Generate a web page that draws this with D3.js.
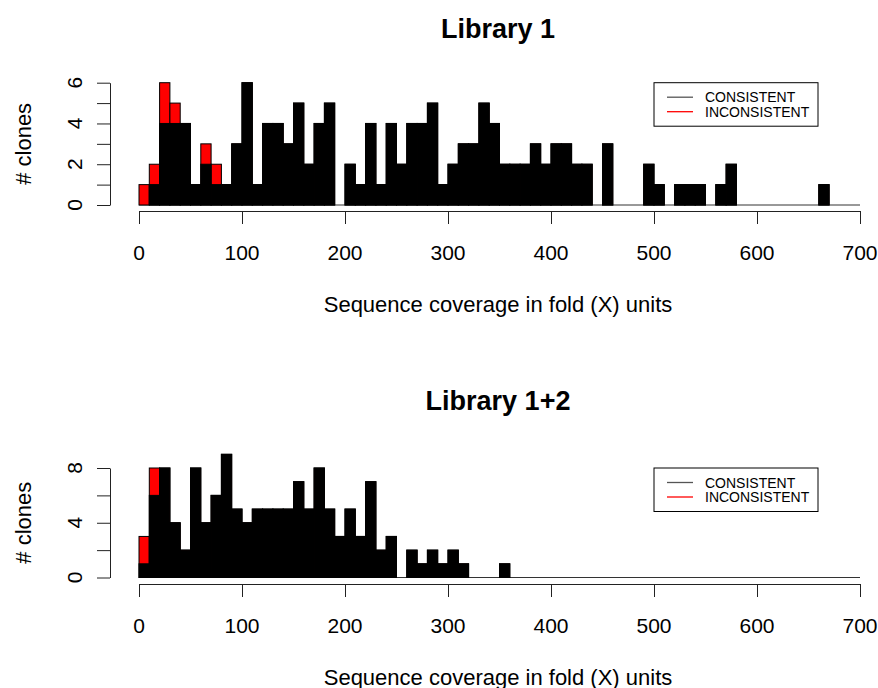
<!DOCTYPE html>
<html>
<head>
<meta charset="utf-8">
<script src="https://cdn.jsdelivr.net/npm/d3@7"></script>
<style>
  body { margin: 0; background: #fff; }
  text { font-family: "Liberation Sans", Arial, sans-serif; fill: #000; }
</style>
</head>
<body>
<script>
// histogram bins: 0..700 in steps of 10
var binEdges = d3.range(0, 701, 10);
var xTicks = [0, 100, 200, 300, 400, 500, 600, 700];
var legendLabels = ["CONSISTENT", "INCONSISTENT"];

// Library 1 counts per bin
var lib1Consistent = [0,1,4,4,4,1,2,1,1,3, 6,1,4,4,3,5,2,4,5,0,
                      2,1,4,1,4,2,4,4,5,1, 2,3,3,5,4,2,2,2,3,2,
                      3,3,2,2,0,3,0,0,0,2, 1,0,1,1,1,0,1,2,0,0,
                      0,0,0,0,0,0,1,0,0,0];
var lib1Inconsistent = [1,1,2,1,0,0,1,1,0,0, 0,0,0,0,0,0,0,0,0,0,
                        0,0,0,0,0,0,0,0,0,0, 0,0,0,0,0,0,0,0,0,0,
                        0,0,0,0,0,0,0,0,0,0, 0,0,0,0,0,0,0,0,0,0,
                        0,0,0,0,0,0,0,0,0,0];

// Library 1+2 counts per bin
var lib12Consistent = [1,6,8,4,2,8,4,6,9,5, 4,5,5,5,5,7,5,8,5,3,
                       5,3,7,2,3,0,2,1,2,1, 2,1,0,0,0,1,0,0,0,0,
                       0,0,0,0,0,0,0,0,0,0, 0,0,0,0,0,0,0,0,0,0,
                       0,0,0,0,0,0,0,0,0,0];
var lib12Inconsistent = [2,2,0,0,0,0,0,0,0,0, 0,0,0,0,0,0,0,0,0,0,
                         0,0,0,0,0,0,0,0,0,0, 0,0,0,0,0,0,0,0,0,0,
                         0,0,0,0,0,0,0,0,0,0, 0,0,0,0,0,0,0,0,0,0,
                         0,0,0,0,0,0,0,0,0,0];

var width = 878, height = 688;

var svg = d3.select("body").append("svg")
    .attr("width", width)
    .attr("height", height);

var x = d3.scaleLinear().domain([0, 700]).range([139, 860]);

var panels = [
    {title: "Library 1", cons: lib1Consistent, inc: lib1Inconsistent,
     yMax: 6, yTop: 82.7, y0: 205, tickStep: 1, labelStep: 2,
     titleY: 38, axisY: 211, tickLabY: 252, xTitleY: 304, legendY: 82.7},
    {title: "Library 1+2", cons: lib12Consistent, inc: lib12Inconsistent,
     yMax: 8, yTop: 468, y0: 577.5, tickStep: 2, labelStep: 4,
     titleY: 410, axisY: 584, tickLabY: 625, xTitleY: 677, legendY: 468}
];

panels.forEach(function(p) {
    var y = d3.scaleLinear().domain([0, p.yMax]).range([p.y0, p.yTop]);
    var g = svg.append("g");

    var bins = p.cons.map(function(c, i) {
        return {x0: binEdges[i], x1: binEdges[i + 1], cons: c, total: c + p.inc[i]};
    });

    // baseline (empty bins)
    g.append("line")
        .attr("x1", x(0)).attr("x2", x(700))
        .attr("y1", y(0)).attr("y2", y(0))
        .style("stroke", "#333")
        .style("stroke-width", 1);

    // all clones in red, consistent on top in black
    g.selectAll(".total")
        .data(bins.filter(function(d) { return d.total > 0; }))
        .enter().append("rect")
        .attr("class", "total")
        .attr("x", function(d) { return x(d.x0); })
        .attr("width", function(d) { return x(d.x1) - x(d.x0); })
        .attr("y", function(d) { return y(d.total); })
        .attr("height", function(d) { return y(0) - y(d.total); })
        .style("fill", "#ff0000")
        .style("stroke", "#000")
        .style("stroke-width", 1);

    g.selectAll(".cons")
        .data(bins.filter(function(d) { return d.cons > 0; }))
        .enter().append("rect")
        .attr("class", "cons")
        .attr("x", function(d) { return x(d.x0); })
        .attr("width", function(d) { return x(d.x1) - x(d.x0); })
        .attr("y", function(d) { return y(d.cons); })
        .attr("height", function(d) { return y(0) - y(d.cons); })
        .style("fill", "#000")
        .style("stroke", "#000")
        .style("stroke-width", 1);

    // x axis
    var xAxis = g.append("g")
        .attr("transform", "translate(0," + p.axisY + ")")
        .call(d3.axisBottom(x).tickValues(xTicks).tickSizeOuter(0).tickSizeInner(13).tickFormat(""));
    xAxis.select(".domain").style("stroke", "#222");
    xAxis.selectAll(".tick line").style("stroke", "#222");

    g.selectAll(".xlab")
        .data(xTicks)
        .enter().append("text")
        .attr("x", function(d) { return x(d); })
        .attr("y", p.tickLabY)
        .attr("text-anchor", "middle")
        .attr("dominant-baseline", "central")
        .style("font-size", "21px")
        .text(function(d) { return d; });

    // y axis
    var yTicks = d3.range(0, p.yMax + 0.01, p.tickStep);
    var yAxis = g.append("g")
        .attr("transform", "translate(110,0)")
        .call(d3.axisLeft(y).tickValues(yTicks).tickSizeOuter(0).tickSizeInner(13).tickFormat(""));
    yAxis.select(".domain").style("stroke", "#222");
    yAxis.selectAll(".tick line").style("stroke", "#222");

    g.selectAll(".ylab")
        .data(yTicks.filter(function(d) { return d % p.labelStep === 0; }))
        .enter().append("text")
        .attr("transform", function(d) { return "translate(74," + y(d) + ") rotate(-90)"; })
        .attr("text-anchor", "middle")
        .attr("dominant-baseline", "central")
        .style("font-size", "21px")
        .text(function(d) { return d; });

    // titles
    g.append("text")
        .attr("x", 498)
        .attr("y", p.titleY)
        .attr("text-anchor", "middle")
        .style("font-size", "27px")
        .style("font-weight", "bold")
        .text(p.title);

    g.append("text")
        .attr("x", 498)
        .attr("y", p.xTitleY)
        .attr("text-anchor", "middle")
        .attr("dominant-baseline", "central")
        .style("font-size", "22px")
        .text("Sequence coverage in fold (X) units");

    g.append("text")
        .attr("transform", "translate(23," + ((p.y0 + p.yTop) / 2) + ") rotate(-90)")
        .attr("text-anchor", "middle")
        .attr("dominant-baseline", "central")
        .style("font-size", "22px")
        .text("# clones");

    // legend
    var lg = g.append("g").attr("transform", "translate(654," + p.legendY + ")");
    lg.append("rect")
        .attr("width", 164).attr("height", 43.5)
        .style("fill", "#fff")
        .style("stroke", "#000")
        .style("stroke-width", 1);
    var legendColors = ["#555", "#ff0000"];
    legendLabels.forEach(function(lab, i) {
        var ly = 14.5 + i * 14.5;
        lg.append("line")
            .attr("x1", 13).attr("x2", 39)
            .attr("y1", ly).attr("y2", ly)
            .style("stroke", legendColors[i])
            .style("stroke-width", 1.3);
        lg.append("text")
            .attr("x", 51).attr("y", ly)
            .attr("dominant-baseline", "central")
            .style("font-size", "14px")
            .text(lab);
    });
});
</script>
</body>
</html>
